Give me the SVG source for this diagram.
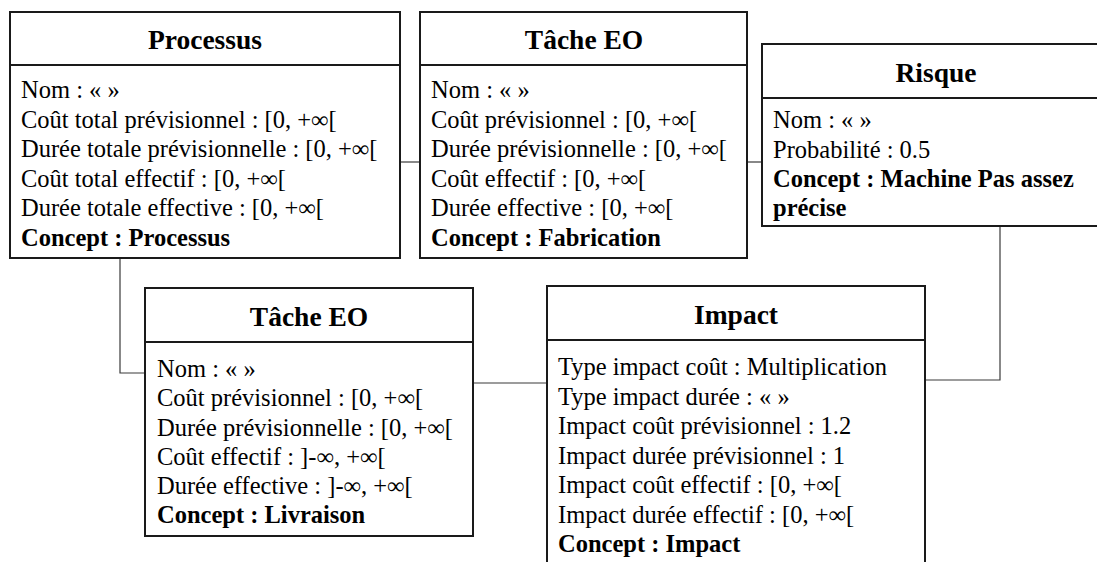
<svg xmlns="http://www.w3.org/2000/svg" width="1097" height="562" viewBox="0 0 1097 562">
  <style>
    .box { fill: #ffffff; stroke: #1a1a1a; stroke-width: 2; }
    .sep { stroke: #1a1a1a; stroke-width: 2; }
    .link { fill: none; stroke: #3a3a3a; stroke-width: 1.2; }
    text { font-family: 'Liberation Serif', 'Times New Roman', serif; fill: #000; }
    .title { font-size: 27.5px; font-weight: bold; text-anchor: middle; }
    .attr { font-size: 24.5px; }
    .b { font-weight: bold; }
  </style>
  <rect width="1097" height="562" fill="#ffffff"/>

  <g id="connectors">
    <polyline class="link" points="400,162 420,162"/>
    <polyline class="link" points="747,162 762,162"/>
    <polyline class="link" points="120,258 120,373 145,373"/>
    <polyline class="link" points="473,383 547,383"/>
    <polyline class="link" points="1000,226 1000,380 925,380"/>
  </g>

  <g id="processus">
    <rect class="box" x="10" y="12" width="390" height="246"/>
    <line class="sep" x1="10" y1="65" x2="400" y2="65"/>
    <text class="title" x="205" y="49">Processus</text>
    <text class="attr">
      <tspan x="21" y="98">Nom : « »</tspan>
      <tspan x="21" y="127.5">Coût total prévisionnel : [0, +∞[</tspan>
      <tspan x="21" y="157">Durée totale prévisionnelle : [0, +∞[</tspan>
      <tspan x="21" y="186.5">Coût total effectif : [0, +∞[</tspan>
      <tspan x="21" y="216">Durée totale effective : [0, +∞[</tspan>
      <tspan x="21" y="245.5" class="b">Concept : Processus</tspan>
    </text>
  </g>

  <g id="tache-fabrication">
    <rect class="box" x="420" y="12" width="327" height="246"/>
    <line class="sep" x1="420" y1="65" x2="747" y2="65"/>
    <text class="title" x="584" y="49">Tâche EO</text>
    <text class="attr">
      <tspan x="431" y="98">Nom : « »</tspan>
      <tspan x="431" y="127.5">Coût prévisionnel : [0, +∞[</tspan>
      <tspan x="431" y="157">Durée prévisionnelle : [0, +∞[</tspan>
      <tspan x="431" y="186.5">Coût effectif : [0, +∞[</tspan>
      <tspan x="431" y="216">Durée effective : [0, +∞[</tspan>
      <tspan x="431" y="245.5" class="b">Concept : Fabrication</tspan>
    </text>
  </g>

  <g id="risque">
    <rect class="box" x="762" y="44" width="345" height="182"/>
    <line class="sep" x1="762" y1="98" x2="1107" y2="98"/>
    <text class="title" x="936" y="82">Risque</text>
    <text class="attr">
      <tspan x="773" y="128">Nom : « »</tspan>
      <tspan x="773" y="157.5">Probabilité : 0.5</tspan>
      <tspan x="773" y="187" class="b">Concept : Machine Pas assez</tspan>
      <tspan x="773" y="216" class="b">précise</tspan>
    </text>
  </g>

  <g id="tache-livraison">
    <rect class="box" x="145" y="288" width="328" height="248"/>
    <line class="sep" x1="145" y1="342" x2="473" y2="342"/>
    <text class="title" x="309" y="326">Tâche EO</text>
    <text class="attr">
      <tspan x="157" y="377">Nom : « »</tspan>
      <tspan x="157" y="406">Coût prévisionnel : [0, +∞[</tspan>
      <tspan x="157" y="435.5">Durée prévisionnelle : [0, +∞[</tspan>
      <tspan x="157" y="464.5">Coût effectif : ]-∞, +∞[</tspan>
      <tspan x="157" y="493.5">Durée effective : ]-∞, +∞[</tspan>
      <tspan x="157" y="522.5" class="b">Concept : Livraison</tspan>
    </text>
  </g>

  <g id="impact">
    <rect class="box" x="547" y="286" width="378" height="290"/>
    <line class="sep" x1="547" y1="340" x2="925" y2="340"/>
    <text class="title" x="736" y="324">Impact</text>
    <text class="attr">
      <tspan x="558" y="375">Type impact coût : Multiplication</tspan>
      <tspan x="558" y="404.5">Type impact durée : «  »</tspan>
      <tspan x="558" y="434">Impact coût prévisionnel : 1.2</tspan>
      <tspan x="558" y="463.5">Impact durée prévisionnel : 1</tspan>
      <tspan x="558" y="493">Impact coût effectif : [0, +∞[</tspan>
      <tspan x="558" y="522.5">Impact durée effectif : [0, +∞[</tspan>
      <tspan x="558" y="552" class="b">Concept : Impact</tspan>
    </text>
  </g>
</svg>
